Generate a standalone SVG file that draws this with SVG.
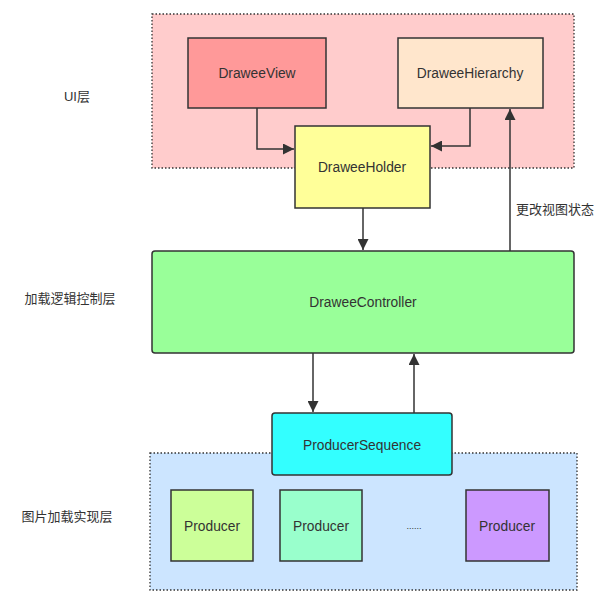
<svg xmlns="http://www.w3.org/2000/svg" width="606" height="604" viewBox="0 0 606 604">
<style>
text{font-family:"Liberation Sans","Noto Sans CJK SC",sans-serif;font-size:13.8px;fill:#333;text-anchor:middle;dominant-baseline:central}
.cjk{font-size:13px}
.layer{stroke:#333;stroke-width:1.3;stroke-dasharray:1.5 2}
.node{stroke:#333;stroke-width:1.5}
.edge{fill:none;stroke:#333;stroke-width:1.5}
</style>
<defs>
<marker id="ah" viewBox="0 0 10 10" refX="10" refY="5" markerWidth="11" markerHeight="11" markerUnits="userSpaceOnUse" orient="auto">
<path d="M0,0 L10,5 L0,10 z" fill="#333"/>
</marker>
</defs>
<rect width="606" height="604" fill="#fff"/>
<g id="layer-ui"><rect class="layer" x="152" y="14" width="422" height="154" fill="#FFCCCC"/><text class="cjk" x="77" y="96">UI层</text></g>
<g id="layer-impl"><rect class="layer" x="150" y="453" width="427" height="137" fill="#CCE5FF"/><text class="cjk" x="67" y="516">图片加载实现层</text></g>
<g id="layer-ctrl-label"><text class="cjk" x="70" y="298">加载逻辑控制层</text></g>
<g id="connectors">
<path class="edge" d="M257,108 V149 H294" marker-end="url(#ah)"/>
<path class="edge" d="M470,108 V146 H431" marker-end="url(#ah)"/>
<path class="edge" d="M363,208 V250" marker-end="url(#ah)"/>
<path class="edge" d="M510,251 V109" marker-end="url(#ah)"/>
<path class="edge" d="M313,353 V412" marker-end="url(#ah)"/>
<path class="edge" d="M414,413 V354" marker-end="url(#ah)"/>
<text class="cjk" x="555" y="209">更改视图状态</text>
</g>
<g id="DraweeView"><rect class="node" x="188" y="38" width="138" height="70" fill="#FF9999"/><text x="257" y="73">DraweeView</text></g>
<g id="DraweeHierarchy"><rect class="node" x="398" y="38" width="145" height="70" fill="#FFE6CC"/><text x="470" y="73">DraweeHierarchy</text></g>
<g id="DraweeHolder"><rect class="node" x="295" y="126" width="135" height="82" fill="#FFFF99"/><text x="362" y="167">DraweeHolder</text></g>
<g id="DraweeController"><rect class="node" x="152" y="251" width="422" height="102" rx="3" fill="#99FF99"/><text x="363" y="302">DraweeController</text></g>
<g id="ProducerSequence"><rect class="node" x="272" y="413" width="180" height="62" rx="3" fill="#33FFFF"/><text x="362" y="445">ProducerSequence</text></g>
<g id="Producer1"><rect class="node" x="171" y="490" width="82" height="71" fill="#CCFF99"/><text x="212" y="526">Producer</text></g>
<g id="Producer2"><rect class="node" x="280" y="490" width="82" height="71" fill="#99FFCC"/><text x="321" y="526">Producer</text></g>
<g id="ellipsis"><text x="414" y="526" style="font-size:9px">......</text></g>
<g id="Producer3"><rect class="node" x="466" y="490" width="83" height="71" fill="#CC99FF"/><text x="507" y="526">Producer</text></g>
</svg>
